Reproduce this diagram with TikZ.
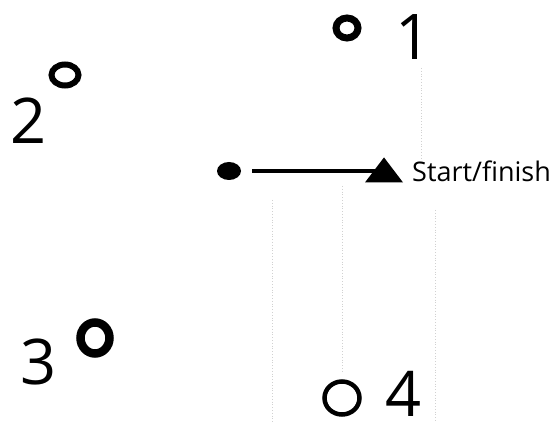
\documentclass[tikz,border=0pt]{standalone}
\usepackage{fontspec}
\setmainfont{Open Sans}
\usetikzlibrary{shapes.geometric, positioning}

\begin{document}
\begin{tikzpicture}[
    x=1pt, y=-1pt,
    stop/.style={ellipse, draw=black, line width=6pt, inner sep=0pt},
    num/.style={inner sep=0pt, font=\fontsize{63}{63}\selectfont},
    guide/.style={black!18, dotted, line width=0.8pt},
    link/.style={line width=4.5pt, shorten <=11pt}
]
\useasboundingbox (0,0) rectangle (560,425);

% Faint guide lines
\draw[guide] (272,200) -- (272,422);
\draw[guide] (342,186) -- (342,372);
\draw[guide] (435,210) -- (435,422);
\draw[guide] (421,68) -- (421,158);

% Stops
\node[stop, minimum width=22pt, minimum height=20pt, line width=7pt] (s1) at (347,28) {};
\node[stop, minimum width=27pt, minimum height=21pt] (s2) at (65,75) {};
\node[stop, minimum width=29pt, minimum height=31pt, line width=8.5pt] (s3) at (95,338) {};
\node[stop, minimum width=35pt, minimum height=33pt, line width=4.5pt] (s4) at (342,398) {};

% Stop numbers
\node[num] (n1) at (414,37) {1};
\node[num] (n2) at (29,121) {2};
\node[num] (n3) at (39,362) {3};
\node[num] (n4) at (404,394) {4};

% Start/finish marker
\node[ellipse, fill=black, inner sep=0pt, minimum width=24pt, minimum height=18pt] (dot) at (229,171) {};
\node[isosceles triangle, shape border rotate=90, isosceles triangle stretches,
      fill=black, inner sep=0pt, minimum width=38pt, minimum height=25pt] (tri) at (384,173) {};
\node[anchor=base west, inner sep=0pt, font=\fontsize{27}{27}\selectfont] (start) at (412,182) {Start/finish};

% Connector
\draw[link] (dot) -- (dot -| tri);

\end{tikzpicture}
\end{document}
